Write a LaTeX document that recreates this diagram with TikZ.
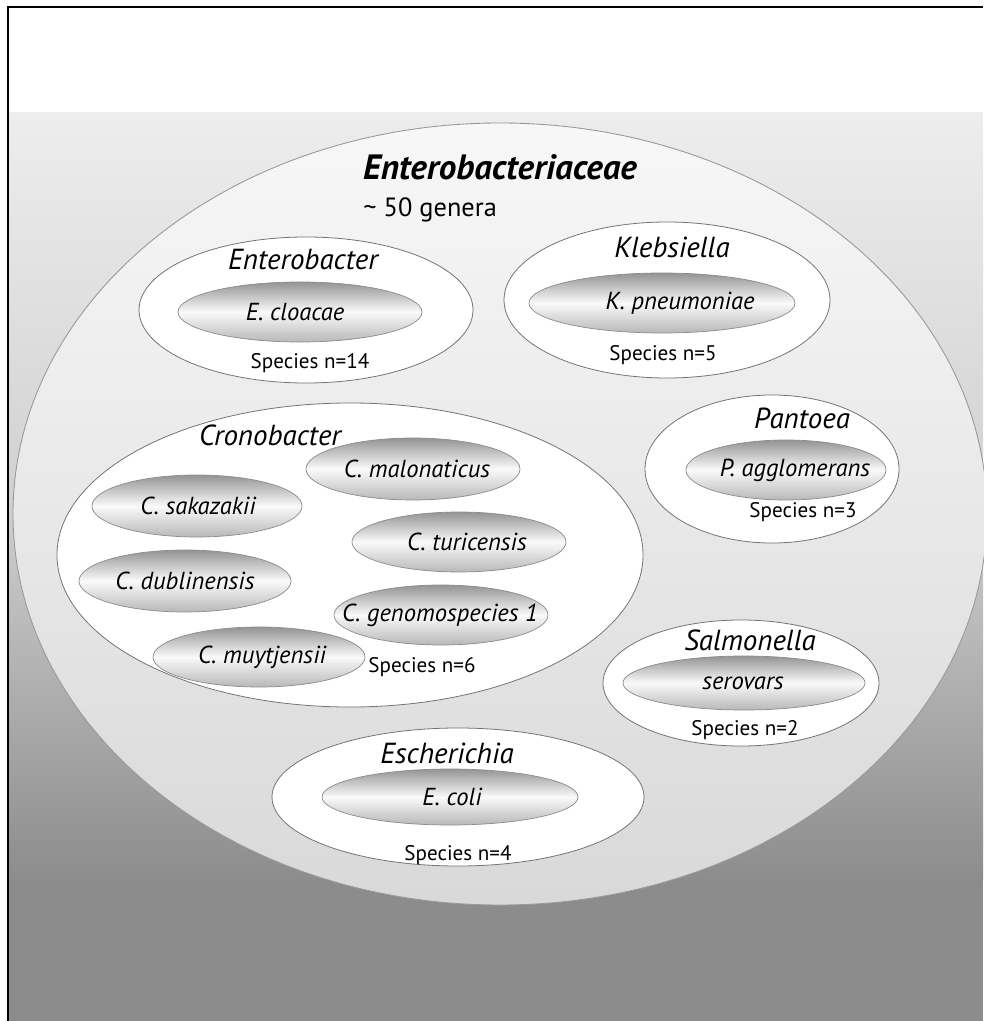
\documentclass[tikz,border=0pt]{standalone}
\usepackage{fontspec}
\setmainfont{PT Sans}
\begin{document}
\begin{tikzpicture}[
    x=2cm, y=2cm,
    family/.style={draw=black!40, line width=0.5pt, top color=black!3, bottom color=black!15},
    genus/.style={draw=black!55, line width=0.45pt, fill=white},
    species/.style={draw=black!45, line width=0.4pt,
                    top color=black!42, bottom color=black!28, middle color=black!2},
    gname/.style={font=\fontsize{16.5}{19}\selectfont\itshape, inner sep=0pt},
    sname/.style={font=\fontsize{14}{17}\selectfont\itshape, inner sep=0pt},
    count/.style={font=\fontsize{12}{14}\selectfont, inner sep=0pt}]

  \useasboundingbox (0,0) rectangle (9.83,-10.21);

  % ---- fondo e cornice --------------------------------------------------------
  \fill[black!45] (0.09,-8.70) rectangle (9.83,-10.21);
  \shade[top color=black!7, bottom color=black!45, middle color=black!18]
    (0.09,-1.13) rectangle (9.83,-8.80);
  \draw[line width=1.2pt] (0.08,-10.21) -- (0.08,-0.07) -- (9.83,-0.07);

  % ---- la famiglia --------------------------------------------------------------
  \shade[family] (5.00,-5.14) ellipse [x radius=4.87, y radius=3.91];
  \node[font=\fontsize{20}{23}\selectfont\bfseries\itshape, inner sep=0pt]
    (fam) at (5.00,-1.67) {Enterobacteriaceae};
  \node[font=\fontsize{15}{18}\selectfont, anchor=west, inner sep=0pt]
    (gen) at (3.63,-2.10) {\textasciitilde\ 50 genera};

  % ---- i generi -------------------------------------------------------------------
  \foreach \cx/\cy/\rx/\ry in {3.06/3.10/1.67/0.73, 6.67/3.00/1.63/0.78,
                               7.72/4.69/1.27/0.74, 3.50/5.55/2.93/1.52,
                               7.41/6.83/1.38/0.63, 4.58/7.97/1.86/0.69}
    \draw[genus] (\cx,-\cy) ellipse [x radius=\rx, y radius=\ry];

  \node[gname] (enterobacter) at (3.03,-2.60) {Enterobacter};
  \node[gname] (klebsiella)   at (6.72,-2.47) {Klebsiella};
  \node[gname] (pantoea)      at (8.02,-4.18) {Pantoea};
  \node[gname] (cronobacter)  at (2.70,-4.35) {Cronobacter};
  \node[gname] (salmonella)   at (7.50,-6.40) {Salmonella};
  \node[gname] (escherichia)  at (4.47,-7.53) {Escherichia};

  % ---- le specie ---------------------------------------------------------------------
  \foreach \cx/\cy/\rx/\ry/\tx/\nm/\txt in {
      3.00/3.12/1.22/0.30/2.95/cloacae/E. cloacae,
      6.62/3.03/1.33/0.30/6.80/pneumoniae/K. pneumoniae,
      7.86/4.70/1.00/0.30/7.95/agglomerans/P. agglomerans,
      4.13/4.69/1.07/0.31/4.17/malonaticus/C. malonaticus,
      1.97/5.06/1.05/0.31/1.98/sakazakii/C. sakazakii,
      4.59/5.42/1.07/0.30/4.67/turicensis/C. turicensis,
      1.85/5.81/1.06/0.31/1.85/dublinensis/C. dublinensis,
      4.41/6.15/1.07/0.30/4.40/genomosp/C. genomospecies 1,
      2.59/6.57/1.06/0.30/2.62/muytjensii/C. muytjensii,
      7.44/6.83/1.21/0.27/7.43/serovars/serovars,
      4.50/7.97/1.28/0.28/4.52/coli/E. coli} {
    \shade[species] (\cx,-\cy) ellipse [x radius=\rx, y radius=\ry];
    \node[sname] (\nm) at (\tx,-\cy) {\txt};
  }

  % ---- numero di specie ----------------------------------------------------------------
  \node[count] (n14) at (3.10,-3.63) {Species n=14};
  \node[count] (n5)  at (6.63,-3.55) {Species n=5};
  \node[count] (n3)  at (8.03,-5.12) {Species n=3};
  \node[count] (n6)  at (4.22,-6.67) {Species n=6};
  \node[count] (n2)  at (7.45,-7.30) {Species n=2};
  \node[count] (n4)  at (4.58,-8.55) {Species n=4};

\end{tikzpicture}
\end{document}
